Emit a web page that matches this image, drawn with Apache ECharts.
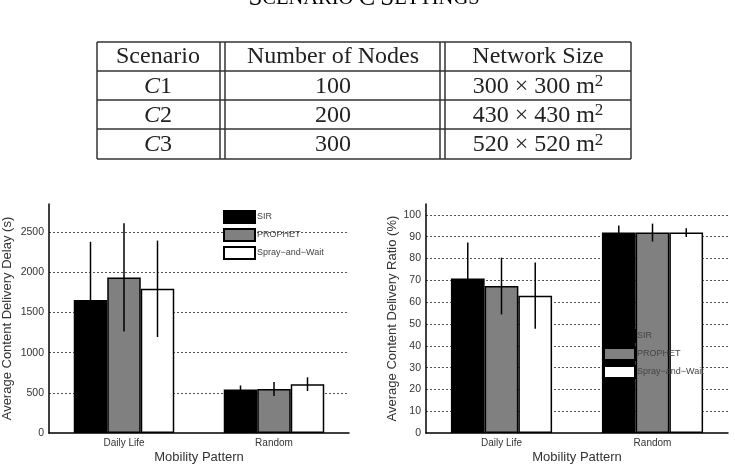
<!DOCTYPE html>
<html>
<head>
<meta charset="utf-8">
<script src="https://cdn.jsdelivr.net/npm/echarts@6/dist/echarts.min.js"></script>
<style>
html, body { margin: 0; padding: 0; background: #fff; }
#main { width: 735px; height: 471px; }
</style>
</head>
<body>
<div id="main"></div>
<script>
// values
var categories = ['Daily Life', 'Random'];
var seriesNames = ['SIR', 'PROPHET', 'Spray\u2212and\u2212Wait'];
var barColors = ['#000000', '#808080', '#ffffff'];

var delayMean = [[1655, 541], [1937, 548], [1795, 609]];
var delayErr = [[725, 52], [674, 88], [600, 85]];
var ratioMean = [[70.8, 91.9], [67.4, 91.9], [63.0, 91.9]];
var ratioErr = [[16.6, 3.2], [13.0, 4.1], [15.2, 2.0]];

var tableTitle = 'SCENARIO C SETTINGS';
var tableHead = ['Scenario', 'Number of Nodes', 'Network Size'];
var tableScenario = ['1', '2', '3'];
var tableNodes = ['100', '200', '300'];
var tableSide = ['300', '430', '520'];

var chart = echarts.init(document.getElementById('main'));
var sans = 'Liberation Sans';
var serif = 'Liberation Serif';

function makeBars(means, gridIdx) {
    var out = [];
    for (var k = 0; k < means.length; k++) {
        out.push({
            name: seriesNames[k],
            type: 'bar',
            xAxisIndex: gridIdx,
            yAxisIndex: gridIdx,
            barGap: '0%',
            barCategoryGap: '33%',
            itemStyle: { color: barColors[k], borderColor: '#000', borderWidth: 1.5 },
            emphasis: { disabled: true },
            data: means[k]
        });
    }
    return out;
}

function makeErr(means, errs, gridIdx) {
    var rows = [];
    for (var k = 0; k < means.length; k++) {
        for (var c = 0; c < categories.length; c++) {
            rows.push([c, k, means[k][c] - errs[k][c], means[k][c] + errs[k][c]]);
        }
    }
    return {
        type: 'custom',
        xAxisIndex: gridIdx,
        yAxisIndex: gridIdx,
        z: 5,
        silent: true,
        encode: { x: 0, y: [2, 3] },
        renderItem: function (params, api) {
            var lo = api.coord([api.value(0), api.value(2)]);
            var hi = api.coord([api.value(0), api.value(3)]);
            var bw = api.size([1, 0])[0] * 0.67 / 3;
            var x = lo[0] + (api.value(1) - 1) * bw;
            return {
                type: 'line',
                shape: { x1: x, y1: lo[1], x2: x, y2: hi[1] },
                style: { stroke: '#000', lineWidth: 1.5 }
            };
        },
        data: rows
    };
}

function valueAxis(gridIdx, max, interval, name, gap) {
    return {
        type: 'value',
        gridIndex: gridIdx,
        min: 0,
        max: max,
        interval: interval,
        name: name,
        nameLocation: 'middle',
        nameGap: gap,
        nameTextStyle: { fontFamily: sans, fontSize: 13, color: '#333' },
        axisLine: { show: true, lineStyle: { color: '#000', width: 1.5 } },
        axisTick: { show: false },
        axisLabel: {
            showMaxLabel: false, margin: 5, fontFamily: sans, fontSize: 10.5, color: '#333',
            formatter: function (v) { return String(v); }
        },
        splitLine: {
            show: true, showMinLine: false, showMaxLine: false,
            lineStyle: { color: '#555', type: [2, 2], width: 1 }
        }
    };
}

function catAxis(gridIdx) {
    return {
        type: 'category',
        gridIndex: gridIdx,
        data: categories,
        name: 'Mobility Pattern',
        nameLocation: 'middle',
        nameGap: 18,
        nameTextStyle: { fontFamily: sans, fontSize: 13, color: '#333' },
        axisLine: { show: true, lineStyle: { color: '#000', width: 1.5 } },
        axisTick: { show: false },
        axisLabel: { margin: 5, fontFamily: sans, fontSize: 10, color: '#333' },
        splitLine: { show: false }
    };
}

function legendAt(left, top) {
    return {
        left: left,
        top: top,
        orient: 'vertical',
        padding: 0,
        itemWidth: 31,
        itemHeight: 12,
        itemGap: 4,
        icon: 'rect',
        selectedMode: false,
        textStyle: { fontFamily: sans, fontSize: 9, color: '#444', padding: [0, 0, 0, -3] },
        data: seriesNames
    };
}

// table drawn as graphics
var graphics = [];
var colCenters = [158, 333, 538];
var rowLines = [42, 71, 100, 129, 159];
var tLeft = 97, tRight = 631;
rowLines.forEach(function (y) {
    graphics.push({ type: 'line', shape: { x1: tLeft, y1: y, x2: tRight, y2: y }, style: { stroke: '#333', lineWidth: 1.5 } });
});
[97, 220, 225, 440, 445, 631].forEach(function (x) {
    graphics.push({ type: 'line', shape: { x1: x, y1: 42, x2: x, y2: 159 }, style: { stroke: '#333', lineWidth: 1.5 } });
});
var cellRich = {
    i: { fontFamily: serif, fontSize: 24, fontStyle: 'italic', color: '#222' },
    n: { fontFamily: serif, fontSize: 24, color: '#222' },
    sup: { fontFamily: serif, fontSize: 17, color: '#222', verticalAlign: 'top', padding: [0, 0, 9, 0] }
};
function cell(x, y, txt) {
    graphics.push({
        type: 'text', x: x, y: y,
        style: { text: txt, rich: cellRich, fontFamily: serif, fontSize: 24, fill: '#222', align: 'center', verticalAlign: 'middle' }
    });
}
tableHead.forEach(function (h, i) { cell(colCenters[i], 57, '{n|' + h + '}'); });
for (var r = 0; r < tableScenario.length; r++) {
    var yc = (rowLines[r + 1] + rowLines[r + 2]) / 2 + 1;
    cell(colCenters[0], yc, '{i|C}{n|' + tableScenario[r] + '}');
    cell(colCenters[1], yc, '{n|' + tableNodes[r] + '}');
    cell(colCenters[2], yc, '{n|' + tableSide[r] + ' \u00d7 ' + tableSide[r] + ' m}{sup|2}');
}
// small-caps title, clipped by the top edge
var words = tableTitle.split(' ');
var titleRich = '';
words.forEach(function (w, i) {
    titleRich += '{b|' + w.charAt(0) + '}' + (w.length > 1 ? '{s|' + w.slice(1) + '}' : '') + (i < words.length - 1 ? '{s| }' : '');
});
graphics.push({
    type: 'text', x: 364, y: 11,
    style: {
        text: titleRich, align: 'center', verticalAlign: 'bottom',
        rich: {
            b: { fontFamily: serif, fontSize: 25, color: '#222' },
            s: { fontFamily: serif, fontSize: 20.5, color: '#222' }
        }
    }
});

var option = {
    backgroundColor: '#ffffff',
    animation: false,
    grid: [
        { left: 49, top: 204, width: 300, height: 236 },
        { left: 426, top: 204, width: 302, height: 236 }
    ],
    xAxis: [catAxis(0), catAxis(1)],
    yAxis: [
        valueAxis(0, 2850, 500, 'Average Content Delivery Delay (s)', 35),
        valueAxis(1, 105, 10, 'Average Content Delivery Ratio (%)', 27)
    ],
    legend: [legendAt(223, 210), legendAt(603, 329)],
    graphic: graphics,
    series: [].concat(
        makeBars(delayMean, 0),
        [makeErr(delayMean, delayErr, 0)],
        makeBars(ratioMean, 1),
        [makeErr(ratioMean, ratioErr, 1)]
    )
};

chart.setOption(option);
</script>
</body>
</html>
